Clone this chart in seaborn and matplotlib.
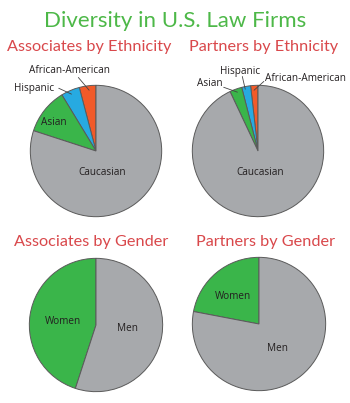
import matplotlib
matplotlib.use("Agg")
import matplotlib.pyplot as plt
import seaborn as sns

# ---- data ----
eth_labels = ["African-American", "Hispanic", "Asian", "Caucasian"]
assoc_eth = [4.1, 4.6, 11.3, 80.0]
partner_eth = [1.8, 2.2, 3.0, 93.0]
gender_labels = ["Women", "Men"]
assoc_gender = [45.0, 55.0]
partner_gender = [22.0, 78.0]

title = "Diversity in U.S. Law Firms"
subtitles = ["Associates by Ethnicity", "Partners by Ethnicity",
             "Associates by Gender", "Partners by Gender"]

sns.set_theme(style="white")
plt.rcParams['font.family'] = ['Lato', 'DejaVu Sans']

W, H = 350, 403
fig = plt.figure(figsize=(W / 100, H / 100), dpi=100)
fig.patch.set_facecolor("white")

GREY = "#A7A9AC"
GREEN = "#3AB54A"
BLUE = "#27AAE1"
RED = "#F15A29"
eth_colors = [RED, BLUE, GREEN, GREY]
gender_colors = [GREEN, GREY]
TITLE_GREEN = "#4DB848"
SUB_RED = "#D9484B"
TEXT = "#231F20"


def pie_axes(cx, cy, r):
    ax = fig.add_axes([(cx - r) / W, 1 - (cy + r) / H, 2 * r / W, 2 * r / H])
    ax.set_xlim(-1, 1)
    ax.set_ylim(-1, 1)
    ax.set_aspect("equal")
    ax.axis("off")
    return ax


def draw(ax, values, colors):
    ax.pie(values, colors=colors, startangle=90, counterclock=True, radius=1,
           wedgeprops=dict(edgecolor="#5a5a5a", linewidth=0.7))
    ax.set_xlim(-1.02, 1.02)
    ax.set_ylim(-1.02, 1.02)


def px(cx, cy, r, x, y):
    return ((x - cx) / r, (cy - y) / r)


LFS = 7.2
LFAM = "Open Sans"


def label(ax, c, x, y, s):
    ax.text(*px(*c, x, y), s, ha="center", va="center", fontsize=LFS,
            color=TEXT, family=LFAM, clip_on=False)


def leader(ax, c, p0, p1):
    ax.plot(*zip(px(*c, *p0), px(*c, *p1)), color="#444444", lw=0.6, clip_on=False)


# Associates by ethnicity
c1 = (96, 151, 67)
ax1 = pie_axes(*c1)
draw(ax1, assoc_eth, eth_colors)
label(ax1, c1, 102, 173, "Caucasian")
label(ax1, c1, 53, 122, "Asian")
label(ax1, c1, 33, 87, "Hispanic")
label(ax1, c1, 69, 69, "African-American")
leader(ax1, c1, (58, 87), (71, 93))
leader(ax1, c1, (78, 76), (89, 89))

# Partners by ethnicity
c2 = (258, 151, 67)
ax2 = pie_axes(*c2)
draw(ax2, partner_eth, eth_colors)
label(ax2, c2, 260, 173, "Caucasian")
label(ax2, c2, 209, 82, "Asian")
label(ax2, c2, 240, 70, "Hispanic")
label(ax2, c2, 306, 77, "African-American")
leader(ax2, c2, (223, 86), (237, 91))
leader(ax2, c2, (242, 75), (245, 88))
leader(ax2, c2, (264, 80), (254, 89))

# Associates by gender
c3 = (96, 325, 68)
ax3 = pie_axes(*c3)
draw(ax3, assoc_gender, gender_colors)
label(ax3, c3, 62, 321, "Women")
label(ax3, c3, 128, 329, "Men")

# Partners by gender
c4 = (259, 324, 68)
ax4 = pie_axes(*c4)
draw(ax4, partner_gender, gender_colors)
label(ax4, c4, 232, 296, "Women")
label(ax4, c4, 278, 349, "Men")

# titles
fig.text(175 / W, 1 - 21 / H, title, ha="center", va="center", fontsize=16, color=TITLE_GREEN)
fig.text(89 / W, 1 - 47 / H, subtitles[0], ha="center", va="center", fontsize=11.7, color=SUB_RED)
fig.text(264 / W, 1 - 47 / H, subtitles[1], ha="center", va="center", fontsize=11.7, color=SUB_RED)
fig.text(91 / W, 1 - 242 / H, subtitles[2], ha="center", va="center", fontsize=11.7, color=SUB_RED)
fig.text(265 / W, 1 - 242 / H, subtitles[3], ha="center", va="center", fontsize=11.7, color=SUB_RED)

fig.savefig("out.png", dpi=100, facecolor="white")
